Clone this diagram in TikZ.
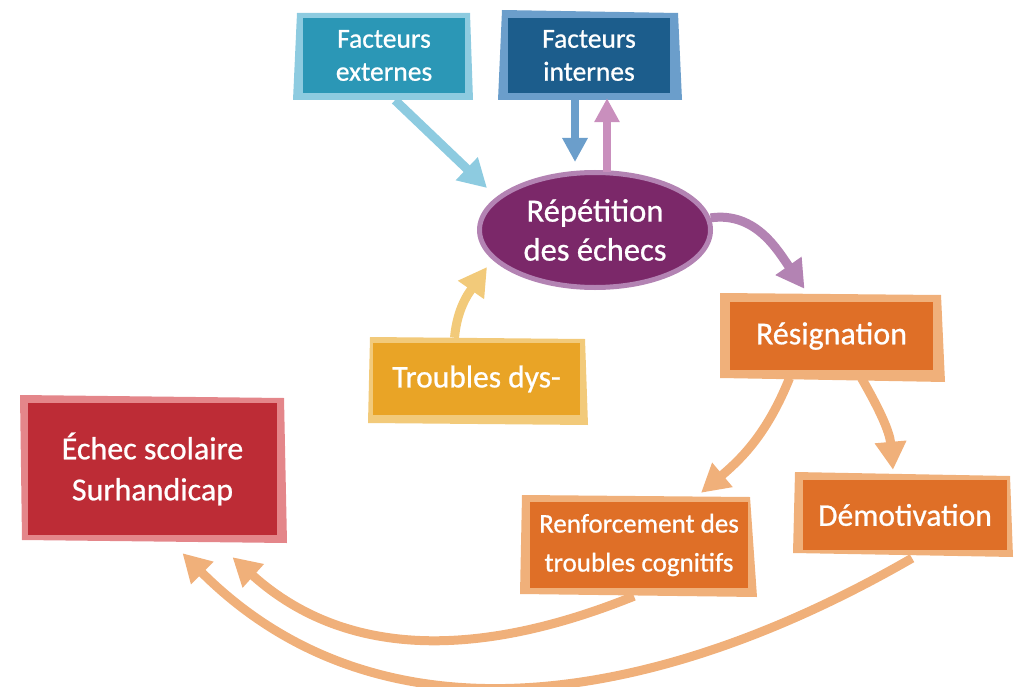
\documentclass[tikz,border=0pt]{standalone}
\usepackage{fontspec}
\setmainfont{Carlito}[FakeBold=0.7]
\usetikzlibrary{arrows.meta,shapes.geometric}
\definecolor{extIn}{HTML}{2B97B6}
\definecolor{extOut}{HTML}{8DCBE0}
\definecolor{intIn}{HTML}{1C5D8C}
\definecolor{intOut}{HTML}{6B9ECB}
\definecolor{repIn}{HTML}{7B2869}
\definecolor{repOut}{HTML}{B383B3}
\definecolor{upArr}{HTML}{C98FBD}
\definecolor{resIn}{HTML}{DF6F27}
\definecolor{resOut}{HTML}{F0B07A}
\definecolor{dysIn}{HTML}{E9A426}
\definecolor{dysOut}{HTML}{F2CA7A}
\definecolor{echIn}{HTML}{BD2C36}
\definecolor{echOut}{HTML}{E4868A}
\tikzset{
  boxnode/.style={fill=#1, draw=none, text=white, align=center, inner sep=0pt},
  arr/.style={draw=#1, line width=9pt, -{Triangle[length=28pt,width=30pt]}},
  smallarr/.style={draw=#1, line width=8pt, -{Triangle[length=24pt,width=24pt]}},
}
\begin{document}
\begin{tikzpicture}[x=1pt,y=-1pt]
\useasboundingbox (0,0) rectangle (1024,687);
% outer skewed frames
\fill[extOut] (297,13)--(470,13)--(473,100)--(293,100)--cycle;
\fill[intOut] (502,10)--(678,13)--(682,100)--(498,100)--cycle;
\fill[resOut] (720,293)--(941,295)--(945,382)--(720,378)--cycle;
\fill[dysOut] (370,337)--(585,339)--(588,425)--(368,423)--cycle;
\fill[echOut] (20,395)--(284,398)--(287,543)--(22,540)--cycle;
\fill[resOut] (522,495)--(750,497)--(757,597)--(520,594)--cycle;
\fill[resOut] (795,472)--(1010,476)--(1013,557)--(793,553)--cycle;
% nodes
\node[boxnode=extIn, minimum width=162pt, minimum height=75pt, font=\fontsize{27.5}{33}\selectfont] (ext) at (384,55.5) {Facteurs\\externes};
\node[boxnode=intIn, minimum width=162pt, minimum height=75pt, font=\fontsize{27.5}{33}\selectfont] (int) at (589,55.5) {Facteurs\\internes};
\node[ellipse, fill=repIn, draw=repOut, line width=5pt, text=white, align=center, inner sep=0pt, minimum width=231pt, minimum height=115pt, font=\fontsize{32.5}{39}\selectfont] (rep) at (595,230) {Répétition\\des échecs};
\node[boxnode=resIn, minimum width=203pt, minimum height=68pt, font=\fontsize{32}{38}\selectfont] (res) at (831.5,336) {Résignation};
\node[boxnode=dysIn, minimum width=207pt, minimum height=72pt, font=\fontsize{31.5}{38}\selectfont] (dys) at (476.5,379) {Troubles dys-};
\node[boxnode=echIn, minimum width=249pt, minimum height=132pt, font=\fontsize{32}{41}\selectfont] (ech) at (152.5,469) {Échec scolaire\\Surhandicap};
\node[boxnode=resIn, minimum width=218pt, minimum height=86pt, font=\fontsize{27}{39}\selectfont] (ren) at (639,545) {Renforcement des\\troubles cognitifs};
\node[boxnode=resIn, minimum width=204pt, minimum height=70pt, font=\fontsize{31.5}{38}\selectfont] (dem) at (905,515) {Démotivation};
% connectors
\draw[arr=extOut] ([xshift=11pt,yshift=-7pt]ext.south) -- ([shift={(-108pt,42pt)}]rep.center);
\draw[smallarr=intOut] ([xshift=-14pt,yshift=-7pt]int.south) -- ([xshift=-20pt,yshift=8pt]rep.north);
\draw[smallarr=upArr] ([xshift=12pt,yshift=-2pt]rep.north) -- ([xshift=18pt,yshift=-5pt]int.south);
\draw[arr=repOut] (rep.6) to[out=8,in=125] ([xshift=-27pt,yshift=13pt]res.north);
\draw[arr=dysOut] ([xshift=-22pt,yshift=5pt]dys.north) to[out=85,in=235] ([shift={(-108pt,-37pt)}]rep.center);
\draw[arr=resOut] ([xshift=-42pt,yshift=-8pt]res.south) to[out=-112,in=40] ([xshift=62pt,yshift=9pt]ren.north);
\draw[arr=resOut] ([xshift=30pt,yshift=-8pt]res.south) to[out=-60,in=95] ([xshift=-12pt,yshift=10pt]dem.north);
\draw[arr=resOut] ([xshift=-5pt,yshift=-8pt]ren.south) to[out=-158,in=-42] ([xshift=80pt,yshift=-22pt]ech.south);
\draw[arr=resOut] ([xshift=7pt,yshift=-8pt]dem.south) to[out=-150,in=-45] ([xshift=30pt,yshift=-18pt]ech.south);
\end{tikzpicture}
\end{document}
